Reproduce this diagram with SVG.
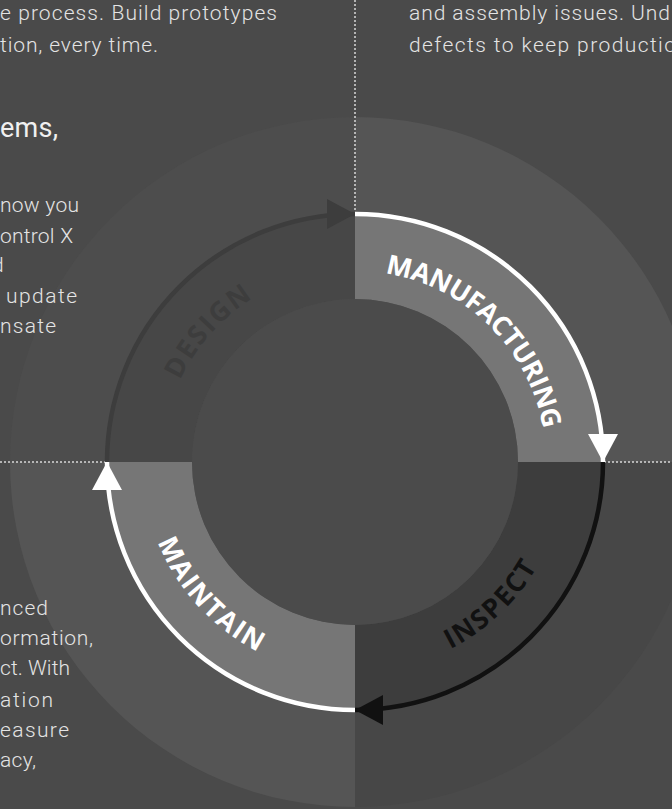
<svg xmlns="http://www.w3.org/2000/svg" width="672" height="809" viewBox="0 0 672 809">
<style>
.body{font-family:Roboto,"Liberation Sans",sans-serif;font-weight:300;font-size:21px;fill:#e4e4e4}
.head{font-family:Roboto,"Liberation Sans",sans-serif;font-weight:400;font-size:27px;fill:#f0f0f0}
.lbl{font-family:"Open Sans",Lato,"Liberation Sans",sans-serif;font-weight:700;font-size:27px}
.dot{stroke:#d8d8d8;stroke-width:1.5;stroke-dasharray:2 2;fill:none}
.arc{fill:none;stroke-width:4.5}
</style>
<defs>
<marker id="ah-white" markerUnits="userSpaceOnUse" markerWidth="28" markerHeight="32" viewBox="0 0 28 32" refX="28" refY="16" orient="auto"><path d="M0,1 L28,16 L0,31 Z" fill="#ffffff"/></marker>
<marker id="ah-black" markerUnits="userSpaceOnUse" markerWidth="28" markerHeight="32" viewBox="0 0 28 32" refX="28" refY="16" orient="auto"><path d="M0,1 L28,16 L0,31 Z" fill="#111111"/></marker>
<marker id="ah-dark" markerUnits="userSpaceOnUse" markerWidth="28" markerHeight="32" viewBox="0 0 28 32" refX="28" refY="16" orient="auto"><path d="M0,1 L28,16 L0,31 Z" fill="#3d3d3d"/></marker>
<path id="tp-design" d="M180.1,380.4 A193,193 0 0 1 252.7,298.3"/>
<path id="tp-manu" d="M384.9,273.3 A191,191 0 0 1 543.1,428.8"/>
<path id="tp-inspect" d="M450.3,649.1 A210,210 0 0 0 536.9,567"/>
<path id="tp-maintain" d="M157.5,541.8 A213,213 0 0 0 258.3,651.8"/>
</defs>
<rect width="672" height="809" fill="#4a4a4a"/>
<g id="background-disc">
<path d="M355,462 L355,117 A345,345 0 0 1 700,462 Z" fill="#555555"/>
<path d="M355,462 L700,462 A345,345 0 0 1 355,807 Z" fill="#474747"/>
<path d="M355,462 L355,807 A345,345 0 0 1 10,462 Z" fill="#555555"/>
<path d="M355,462 L10,462 A345,345 0 0 1 355,117 Z" fill="#4d4d4d"/>
</g>
<g id="node-design">
<path d="M107,462 A248,248 0 0 1 355,214 L355,299 A163,163 0 0 0 192,462 Z" fill="#474747"/>
<text class="lbl" fill="#3d3d3d"><textPath href="#tp-design" textLength="111" lengthAdjust="spacing">DESIGN</textPath></text>
</g>
<g id="node-manufacturing">
<path d="M355,214 A248,248 0 0 1 603,462 L518,462 A163,163 0 0 0 355,299 Z" fill="#767676"/>
<text class="lbl" fill="#ffffff"><textPath href="#tp-manu" textLength="237" lengthAdjust="spacing">MANUFACTURING</textPath></text>
</g>
<g id="node-inspect">
<path d="M603,462 A248,248 0 0 1 355,710 L355,625 A163,163 0 0 0 518,462 Z" fill="#3d3d3d"/>
<text class="lbl" fill="#111111"><textPath href="#tp-inspect" textLength="121" lengthAdjust="spacing">INSPECT</textPath></text>
</g>
<g id="node-maintain">
<path d="M355,710 A248,248 0 0 1 107,462 L192,462 A163,163 0 0 0 355,625 Z" fill="#767676"/>
<text class="lbl" fill="#ffffff"><textPath href="#tp-maintain" textLength="152" lengthAdjust="spacing">MAINTAIN</textPath></text>
</g>
<g id="hub">
<circle cx="355" cy="462" r="163" fill="#4b4b4b"/>
</g>
<g id="guides">
<line class="dot" x1="355" y1="0" x2="355" y2="213"/>
<line class="dot" x1="0" y1="462" x2="106" y2="462"/>
<line class="dot" x1="604" y1="462" x2="672" y2="462"/>
</g>
<g id="connectors">
<path class="arc" d="M107,462 A248,248 0 0 1 355,214" stroke="#3d3d3d" marker-end="url(#ah-dark)"/>
<path class="arc" d="M603,462 A248,248 0 0 1 355,710" stroke="#111111" marker-end="url(#ah-black)"/>
<path class="arc" d="M355,214 A248,248 0 0 1 603,462" stroke="#ffffff" marker-end="url(#ah-white)"/>
<path class="arc" d="M355,710 A248,248 0 0 1 107,462" stroke="#ffffff" marker-end="url(#ah-white)"/>
</g>
<g id="copy-top-left">
<text class="body" x="0" y="20" textLength="277" lengthAdjust="spacing">e process. Build prototypes</text>
<text class="body" x="0" y="52" textLength="158" lengthAdjust="spacing">tion, every time.</text>
<text class="head" x="0" y="137" textLength="58" lengthAdjust="spacing">ems,</text>
<text class="body" x="0" y="212" textLength="79" lengthAdjust="spacing">now you</text>
<text class="body" x="0" y="243" textLength="73" lengthAdjust="spacing">ontrol X</text>
<text class="body" x="-8" y="272">d</text>
<text class="body" x="6" y="303" textLength="71" lengthAdjust="spacing">update</text>
<text class="body" x="0" y="333" textLength="56" lengthAdjust="spacing">nsate</text>
</g>
<g id="copy-top-right">
<text class="body" x="409" y="20" textLength="261" lengthAdjust="spacing">and assembly issues. Und</text>
<text class="body" x="409" y="52" textLength="267" lengthAdjust="spacing">defects to keep productio</text>
</g>
<g id="copy-bottom-left">
<text class="body" x="0" y="615" textLength="48" lengthAdjust="spacing">nced</text>
<text class="body" x="0" y="645" textLength="93" lengthAdjust="spacing">ormation,</text>
<text class="body" x="0" y="675" textLength="70" lengthAdjust="spacing">ct. With</text>
<text class="body" x="0" y="707" textLength="53" lengthAdjust="spacing">ation</text>
<text class="body" x="0" y="737" textLength="69" lengthAdjust="spacing">easure</text>
<text class="body" x="0" y="767" textLength="36" lengthAdjust="spacing">acy,</text>
</g>
</svg>
